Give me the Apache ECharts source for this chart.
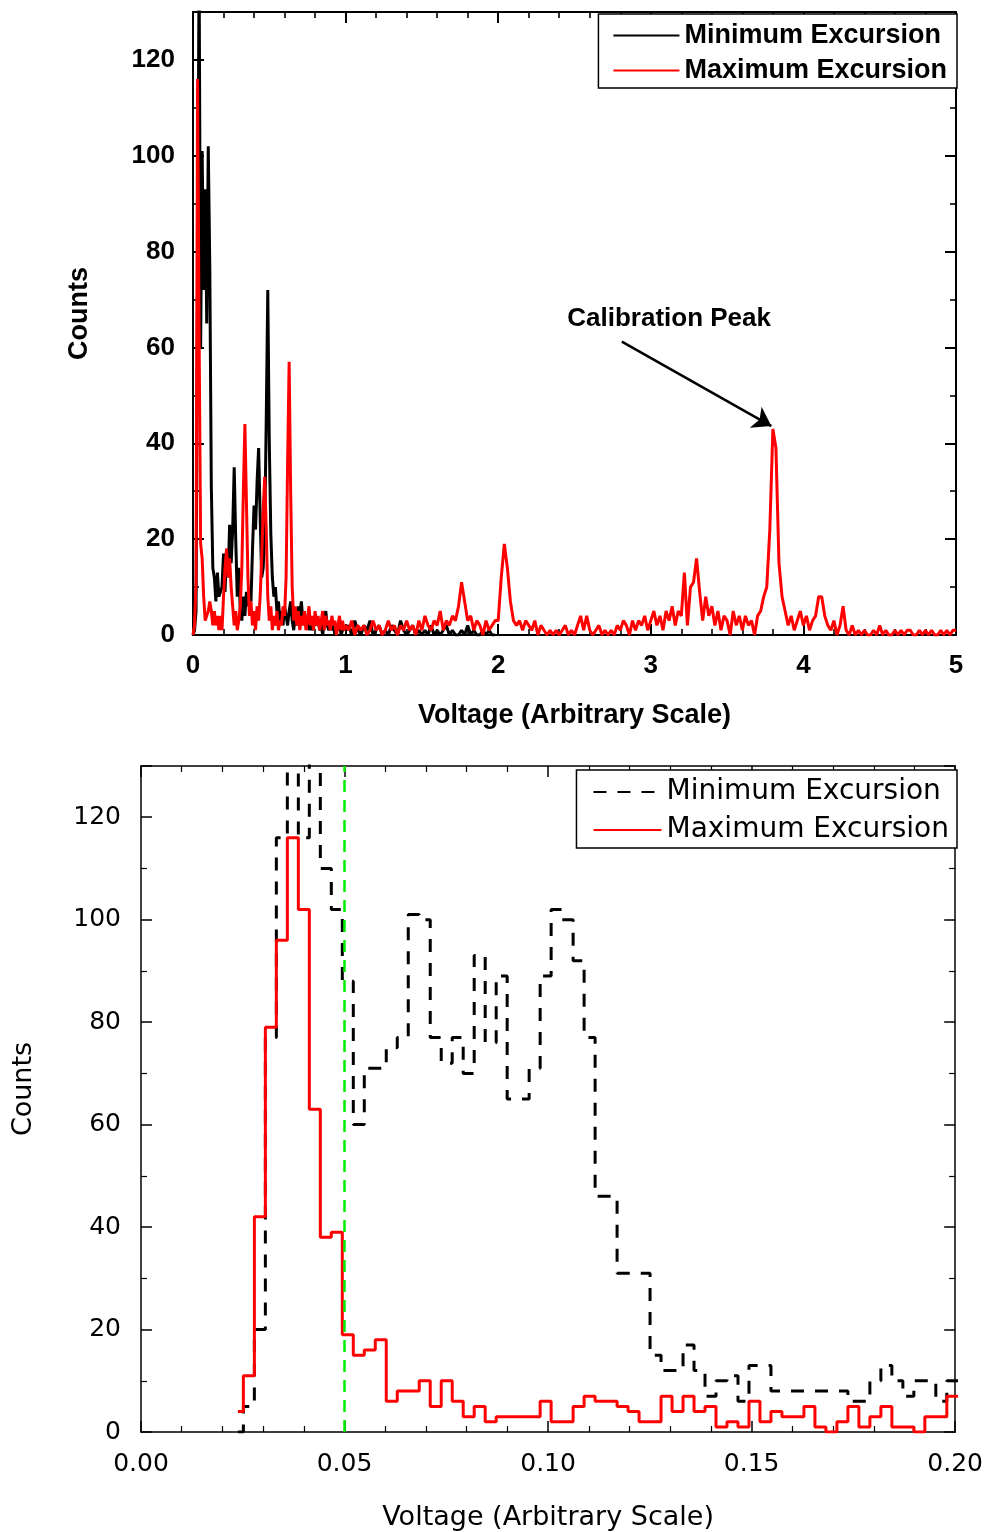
<!DOCTYPE html>
<html><head><meta charset="utf-8">
<script src="https://cdn.jsdelivr.net/npm/echarts@6.0.0/dist/echarts.min.js"></script>
<style>html,body{margin:0;padding:0;background:#fff}#c{width:986px;height:1532px}</style>
</head><body><div id="c"></div>
<script>
// ---------- DATA ----------
// Top panel: fine sampling 0.00-0.99 (step 0.01), coarse sampling from 1.00 (step 0.02)
const TOP_FINE_START = 0, TOP_FINE_STEP = 0.01;
const TOP_COARSE_START = 1, TOP_COARSE_STEP = 0.02;

const topMinFine = [
  0,1,5,77,140,60,101,72,93,65,
  102,77,31,14,12,7,13,8,8,10,
  17,9,18,12,23,15,22,35,20,8,
  14,5,3,8,4,9,6,10,7,18,
  27,22,32,39,25,12,14,22,45,72,
  40,21,12,8,10,5,7,3,5,2,
  6,4,2,5,7,3,1,4,2,6,
  4,7,3,5,2,4,1,3,1,2,
  4,2,3,1,2,0,3,5,2,1,
  3,1,2,0,2,1,3,0,1,2
];
const topMaxFine = [
  0,2,11,116,63,19,16,8,3,3,
  5,7,5,2,5,2,4,1,4,1,
  8,14,18,12,16,10,6,2,5,1,
  3,6,14,30,44,28,12,4,7,2,
  5,1,6,3,8,16,26,33,22,8,
  3,6,1,4,2,5,1,3,2,6,
  4,12,36,57,30,10,3,6,2,5,
  1,4,2,5,1,3,6,2,4,1,
  5,2,4,1,3,5,1,4,2,3,
  1,4,2,3,0,2,4,1,3,1
];
const topMinCoarse = [
  1,2,0,3,1,0,2,1,3,0,
  1,2,0,1,0,2,1,0,3,1,
  0,1,2,0,1,0,1,0,2,0,
  1,0,1,2,0,1,0,0,1,0,
  2,0,1,0,0,1,0,1,0,0
];
const topMaxCoarse = [
  2,1,3,0,2,1,2,0,1,3,
  1,2,0,1,3,1,2,0,2,1,
  3,1,2,0,3,1,4,2,1,3,
  2,5,1,3,2,4,3,6,11,7,
  3,4,1,3,2,0,3,1,2,3,
  3,12,19,14,7,3,2,3,1,3,
  2,1,3,0,2,1,0,1,0,1,
  0,1,2,0,1,0,2,4,1,4,
  1,0,1,2,0,1,0,1,0,2,
  1,3,2,0,3,1,3,2,4,1,
  3,5,2,4,1,5,3,6,2,5,
  4,13,2,10,11,16,9,3,8,4,
  6,2,5,1,4,3,0,5,2,4,
  1,4,2,3,0,4,5,8,10,22,
  43,39,15,8,5,2,4,1,3,5,
  2,4,1,3,4,8,8,4,2,1,
  3,0,2,6,1,0,2,0,1,0,
  1,0,0,1,0,2,0,1,0,0,
  1,0,1,0,1,1,0,0,1,0,
  1,0,1,0,0,1,0,1,0,1,
  1
];

// Bottom panel: histogram bins (centre of first bin, bin width)
const BIN_START = 0.0238, BIN_WIDTH = 0.0027;
const bottomMin = [
  0,5,20,77,116,138,116,135,110,102,
  88,60,71,71,75,77,101,100,77,72,
  77,70,93,76,89,65,65,71,89,102,
  100,92,77,46,46,31,31,31,15,12,
  12,17,12,7,10,11,6,13,13,8,
  8,8,8,8,8,8,6,6,10,13,
  10,7,10,10,6,10,10
];
const bottomMax = [
  4,11,42,79,96,116,102,63,38,39,
  19,15,16,18,6,8,8,10,5,10,
  6,3,5,2,3,3,3,3,6,2,
  2,5,7,6,6,5,4,2,2,7,
  4,7,4,5,1,2,1,6,2,4,
  3,3,5,1,0,2,5,1,3,5,
  1,1,0,3,3,7,7
];

const LEGEND_LABELS = { minTop: 'Minimum Excursion', maxTop: 'Maximum Excursion',
                        minBottom: 'Minimum Excursion', maxBottom: 'Maximum Excursion' };
const X_TITLE = 'Voltage (Arbitrary Scale)';
const Y_TITLE = 'Counts';
const ANNOTATION = 'Calibration Peak';
const ANNOTATION_TEXT_AT = [3.12, 66];
const ARROW_FROM = [2.81, 61.2], ARROW_TO = [3.79, 43.6];
const THRESHOLD_X = 0.05;

// ---------- BUILD ----------
function pairs(start, step, vals) {
  return vals.map((v, i) => [+(start + i * step).toFixed(5), v]);
}
const topMinData = pairs(TOP_FINE_START, TOP_FINE_STEP, topMinFine).concat(pairs(TOP_COARSE_START, TOP_COARSE_STEP, topMinCoarse));
const topMaxData = pairs(TOP_FINE_START, TOP_FINE_STEP, topMaxFine).concat(pairs(TOP_COARSE_START, TOP_COARSE_STEP, topMaxCoarse));
const botMinData = pairs(BIN_START, BIN_WIDTH, bottomMin);
const botMaxData = pairs(BIN_START, BIN_WIDTH, bottomMax);

const TOP_FONT = "'Liberation Sans', Arial, sans-serif";
const BOT_FONT = "'DejaVu Sans', Verdana, sans-serif";
const topText = { color: '#000', fontFamily: TOP_FONT, fontWeight: 'bold' };
const botText = { color: '#000', fontFamily: BOT_FONT, fontWeight: 'normal' };

function xAx(grid, pos, min, max, interval, split, show, text, fmt, margin, nameGap, lw) {
  const a = {
    gridIndex: grid, type: 'value', position: pos, min: min, max: max, interval: interval,
    axisLine: { onZero: false, lineStyle: { color: '#000', width: lw } },
    axisTick: { inside: true, length: 11, lineStyle: { color: '#000', width: lw } },
    minorTick: { show: true, splitNumber: split, length: 6, lineStyle: { color: '#000', width: lw * 0.8 } },
    splitLine: { show: false }, minorSplitLine: { show: false },
    axisLabel: Object.assign({ show: show, margin: margin, fontSize: text === topText ? 26 : 25, formatter: fmt }, text)
  };
  if (show) {
    a.name = X_TITLE; a.nameLocation = 'middle'; a.nameGap = nameGap;
    a.nameTextStyle = Object.assign({ fontSize: 27 }, text);
  }
  return a;
}
function yAx(grid, pos, show, text, margin, nameGap, lw) {
  const a = {
    gridIndex: grid, type: 'value', position: pos, min: 0, max: 130, interval: 20,
    axisLine: { onZero: false, lineStyle: { color: '#000', width: lw } },
    axisTick: { inside: true, length: 11, lineStyle: { color: '#000', width: lw } },
    minorTick: { show: true, splitNumber: 2, length: 6, lineStyle: { color: '#000', width: lw * 0.8 } },
    splitLine: { show: false }, minorSplitLine: { show: false },
    axisLabel: Object.assign({ show: show, margin: margin, showMaxLabel: false, fontSize: text === topText ? 26 : 25 }, text)
  };
  if (show) {
    a.name = Y_TITLE; a.nameLocation = 'middle'; a.nameGap = nameGap; a.nameRotate = 90;
    a.nameTextStyle = Object.assign({ fontSize: 27, padding: [0, 0, 0, 20] }, text);
  }
  return a;
}

const option = {
  animation: false,
  backgroundColor: '#fff',
  grid: [
    { left: 193, top: 12, width: 763, height: 623 },
    { left: 141, top: 766, width: 817, height: 666 }
  ],
  xAxis: [
    xAx(0, 'bottom', 0, 5, 1, 5, true, topText, v => String(v), 18, 67, 2),
    xAx(0, 'top', 0, 5, 1, 5, false, topText, null, 18, 0, 2),
    xAx(1, 'bottom', 0, 0.2, 0.05, 5, true, botText, v => v.toFixed(2), 20, 72, 1.5),
    xAx(1, 'top', 0, 0.2, 0.05, 5, false, botText, null, 20, 0, 1.5)
  ],
  yAxis: [
    yAx(0, 'left', true, topText, 18, 100, 2),
    yAx(0, 'right', false, topText, 18, 0, 2),
    yAx(1, 'left', true, botText, 20, 104, 1.5),
    yAx(1, 'right', false, botText, 20, 0, 1.5)
  ],
  legend: [
    {
      data: ['minTop', 'maxTop'], formatter: n => LEGEND_LABELS[n], orient: 'vertical',
      right: 29, top: 14, itemWidth: 66, itemHeight: 14, itemGap: 8,
      padding: [8, 10, 4, 14], borderColor: '#000', borderWidth: 1.5, backgroundColor: '#fff',
      itemStyle: { opacity: 0 },
      textStyle: Object.assign({ fontSize: 27, lineHeight: 27 }, topText)
    },
    {
      data: ['minBottom', 'maxBottom'], formatter: n => LEGEND_LABELS[n], orient: 'vertical',
      right: 29, top: 770, itemWidth: 68, itemHeight: 14, itemGap: 10,
      padding: [8, 8, 4, 16], borderColor: '#000', borderWidth: 1.5, backgroundColor: '#fff',
      itemStyle: { opacity: 0 },
      textStyle: Object.assign({ fontSize: 28, lineHeight: 27 }, botText)
    }
  ],
  series: [
    { name: 'minTop', type: 'line', xAxisIndex: 0, yAxisIndex: 0, data: topMinData,
      symbol: 'none', showSymbol: false, clip: true,
      lineStyle: { color: '#000', width: 3 }, itemStyle: { color: '#000' } },
    { name: 'maxTop', type: 'line', xAxisIndex: 0, yAxisIndex: 0, data: topMaxData,
      symbol: 'none', showSymbol: false, clip: true,
      lineStyle: { color: '#ff0000', width: 3 }, itemStyle: { color: '#ff0000' },
      markLine: {
        silent: true, symbol: ['none', 'arrow'], symbolSize: 18, label: { show: false },
        lineStyle: { color: '#000', width: 2.5, type: 'solid' },
        data: [[{ coord: ARROW_FROM }, { coord: ARROW_TO }]]
      },
      markPoint: {
        silent: true, symbol: 'rect', symbolSize: 0,
        label: Object.assign({ show: true, position: 'inside', fontSize: 26, formatter: ANNOTATION }, topText),
        data: [{ coord: ANNOTATION_TEXT_AT }]
      } },
    { name: 'minBottom', type: 'line', xAxisIndex: 2, yAxisIndex: 2, data: botMinData, step: 'middle',
      symbol: 'none', showSymbol: false, clip: true,
      lineStyle: { color: '#000', width: 3, type: [13, 11] }, itemStyle: { color: '#000' } },
    { name: 'maxBottom', type: 'line', xAxisIndex: 2, yAxisIndex: 2, data: botMaxData, step: 'middle',
      symbol: 'none', showSymbol: false, clip: true,
      lineStyle: { color: '#ff0000', width: 3 }, itemStyle: { color: '#ff0000' },
      markLine: {
        silent: true, symbol: ['none', 'none'], label: { show: false },
        lineStyle: { color: '#00ee00', width: 2.5, type: [12, 8] },
        data: [{ xAxis: THRESHOLD_X }]
      } }
  ]
};
const chart = echarts.init(document.getElementById('c'), null, { renderer: 'canvas' });
chart.setOption(option);
</script></body></html>
